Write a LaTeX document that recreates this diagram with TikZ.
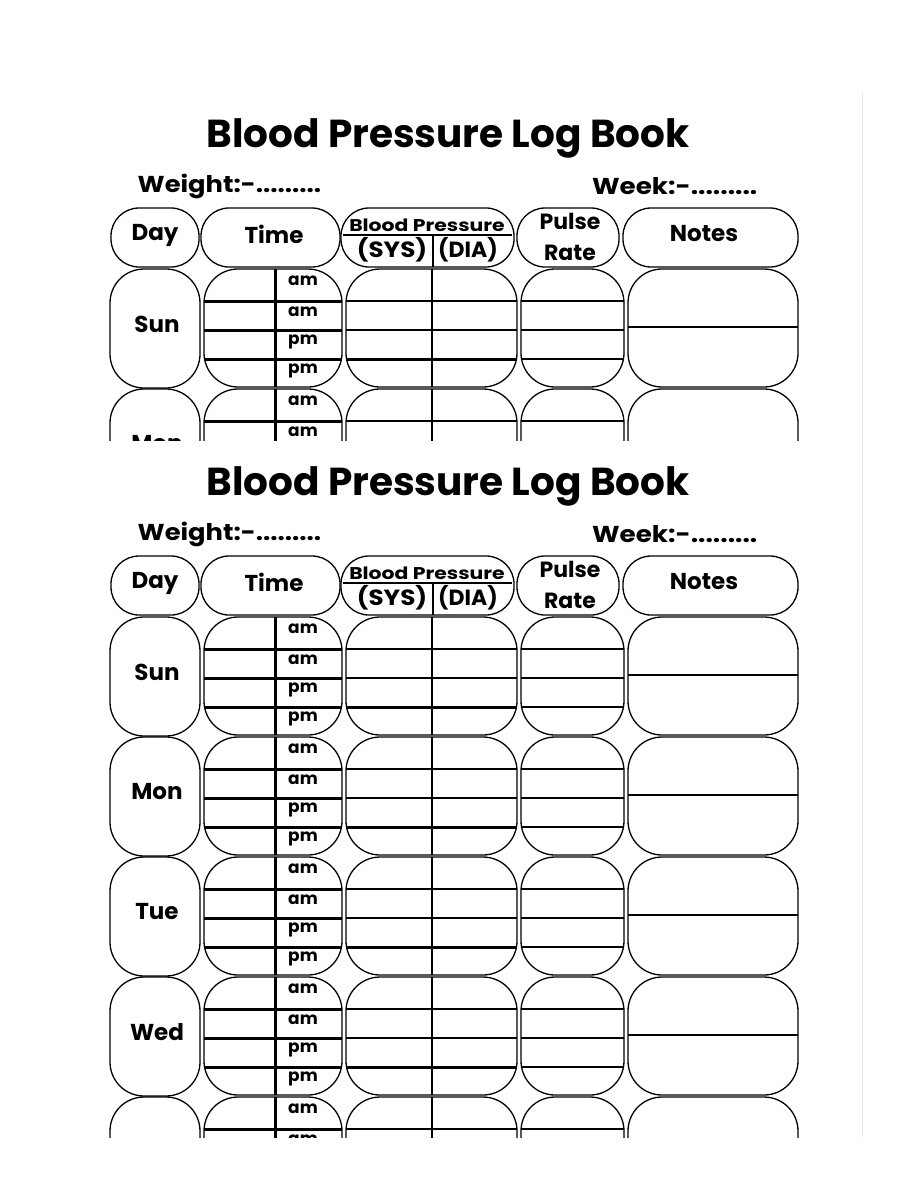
\documentclass[tikz,border=0pt]{standalone}
\usepackage{fontspec}
\setmainfont{Poppins}
\begin{document}
\begin{tikzpicture}[x=1pt,y=-1pt,line width=1.3pt,
  pill/.style={draw,rounded corners=28pt},
  rowpill/.style={draw,rounded corners=34pt},
  thick3/.style={line width=3pt},
  lbl/.style={font=\bfseries\fontsize{23}{25}\selectfont,inner sep=0pt},
  ampm/.style={font=\bfseries\fontsize{17}{18}\selectfont,inner sep=0pt}]
\useasboundingbox (0,0) rectangle (900,1200);
\fill[white] (0,0) rectangle (900,1200);
\draw[line width=1pt,black!10] (862,92) coordinate (ga) -- (862,1137) coordinate (gb);
\newcommand\dayrow[2]{%
  \begin{scope}[yshift=-#1pt]
  \draw[rowpill] (110,0) rectangle (200,119);
  \node[lbl] (d#1) at (157,55) {#2};
  \draw[rowpill] (204,0) rectangle (342,118);
  \draw[thick3] (204,32) -- (342,32) (204,61) -- (342,61) (204,90) -- (342,90);
  \draw[thick3] (275,0) -- (275,118);
  \node[ampm] at (303,12) {am};
  \node[ampm] at (303,43) {am};
  \node[ampm] at (303,73) {pm};
  \node[ampm] at (303,102) {pm};
  \draw[rowpill] (346,0) rectangle (517,118);
  \draw (346,32) -- (517,32) (346,61) -- (517,61);
  \draw[thick3] (346,90) -- (517,90);
  \draw (432,0) -- (432,118);
  \draw[rowpill] (521,0) rectangle (624,118);
  \draw (521,32) -- (624,32) (521,61) -- (624,61) (521,90) -- (624,90);
  \draw[rowpill] (628,0) rectangle (798,118);
  \draw (628,58) -- (798,58);
  \end{scope}}
\newcommand\block[3]{%
  \begin{scope}
  \clip (0,#1-200) rectangle (900,#2);
  \begin{scope}[yshift=-#1pt]
  \node[font=\bfseries\fontsize{39}{41}\selectfont,inner sep=0pt] (title#1) at (448,-131) {Blood Pressure Log Book};
  \node[font=\bfseries\fontsize{23}{25}\selectfont,inner sep=0pt,anchor=west] (w#1) at (137,-83) {\scalebox{1.12}[1]{Weight:-.........}};
  \node[font=\bfseries\fontsize{23}{25}\selectfont,inner sep=0pt,anchor=east] (k#1) at (758,-83) {\scalebox{1.14}[1]{Week:-.........}};
  \draw[pill] (111,-61) rectangle (199,-2);
  \node[lbl] (hd#1) at (155,-34) {Day};
  \draw[pill] (201,-61) rectangle (340,-2);
  \node[lbl] (ht#1) at (274,-35) {Time};
  \draw[pill] (341,-61) rectangle (514,-2);
  \draw (343,-34) -- (512,-34) (433,-34) -- (433,-2);
  \node[font=\bfseries\fontsize{17}{18}\selectfont,inner sep=0pt] at (427,-44) {\scalebox{1.2}[1]{Blood Pressure}};
  \node[font=\bfseries\fontsize{22}{24}\selectfont,inner sep=0pt] at (392,-19) {\scalebox{1.12}[1]{(SYS)}};
  \node[font=\bfseries\fontsize{22}{24}\selectfont,inner sep=0pt] at (468,-19) {(DIA)};
  \draw[pill] (517,-61) rectangle (619,-2);
  \node[font=\bfseries\fontsize{22}{24}\selectfont,inner sep=0pt] at (570,-48) {Pulse};
  \node[font=\bfseries\fontsize{22}{24}\selectfont,inner sep=0pt] at (570,-16) {Rate};
  \draw[pill] (623,-61) rectangle (798,-2);
  \node[lbl] (hn#1) at (704,-35) {Notes};
  \end{scope}
  #3
  \end{scope}}
\block{269}{440}{\dayrow{269}{Sun}\dayrow{389}{Mon}}
\block{617}{1137}{\dayrow{617}{Sun}\dayrow{737}{Mon}\dayrow{857}{Tue}\dayrow{977}{Wed}\dayrow{1097}{Thu}}
\end{tikzpicture}
\end{document}
